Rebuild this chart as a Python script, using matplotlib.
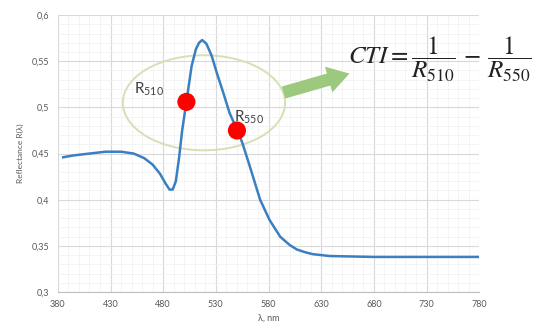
import matplotlib
matplotlib.use("Agg")
import matplotlib.pyplot as plt
from matplotlib.patches import Ellipse, FancyArrowPatch
from matplotlib.ticker import MultipleLocator, FixedLocator

plt.rcParams['font.family'] = ['Lato', 'DejaVu Sans']

# Data
wavelength = [385, 395, 410, 425, 440, 452, 462, 470, 477, 482, 486, 489, 492, 495,
              498, 502, 507, 511, 514, 517, 521, 526, 531, 537, 543, 550, 555, 562,
              572, 581, 591, 600, 607, 615, 622, 638, 680, 780]
reflectance = [0.446, 0.448, 0.450, 0.452, 0.452, 0.450, 0.445, 0.438, 0.428, 0.418,
               0.411, 0.411, 0.420, 0.445, 0.475, 0.506, 0.545, 0.563, 0.570, 0.573,
               0.569, 0.556, 0.537, 0.516, 0.494, 0.476, 0.462, 0.437, 0.400, 0.378,
               0.360, 0.351, 0.346, 0.343, 0.341, 0.339, 0.338, 0.338]
marker_x = [502, 550]
marker_y = [0.506, 0.475]
marker_labels = [r"R$_{\mathregular{510}}$", r"R$_{\mathregular{550}}$"]
x_ticks = [380, 430, 480, 530, 580, 630, 680, 730, 780]
y_ticks = [0.3, 0.35, 0.4, 0.45, 0.5, 0.55, 0.6]
y_tick_labels = ["0,3", "0,35", "0,4", "0,45", "0,5", "0,55", "0,6"]

fig = plt.figure(figsize=(5.36, 3.25), dpi=100)
ax = fig.add_axes([0.108, 0.1015, 0.786, 0.852])

ax.set_xlim(380, 780)
ax.set_ylim(0.3, 0.6)
ax.xaxis.set_major_locator(FixedLocator(x_ticks))
ax.xaxis.set_minor_locator(MultipleLocator(10))
ax.yaxis.set_major_locator(FixedLocator(y_ticks))
ax.yaxis.set_minor_locator(MultipleLocator(0.01))
ax.set_yticklabels(y_tick_labels)
ax.grid(which='major', color='#d9d9d9', lw=0.8)
ax.grid(which='minor', color='#f0f0f0', lw=0.5)
ax.set_axisbelow(True)
for s in ['top', 'right', 'left']:
    ax.spines[s].set_visible(False)
ax.spines['bottom'].set_color('#bfbfbf')
ax.tick_params(which='both', length=0, labelsize=6.5, labelcolor='#595959', pad=6)
ax.set_xlabel("λ, nm", fontsize=6.5, color='#595959', labelpad=3)
ax.set_ylabel("Reflectance R(λ)", fontsize=6, color='#595959', labelpad=6)

ax.plot(wavelength, reflectance, color='#3a7fc1', lw=1.8, zorder=3)

ell = Ellipse((518.7, 0.505), 154, 0.103, fill=False, edgecolor='#d6e0b4', lw=1.4, zorder=2)
ax.add_patch(ell)

ax.scatter(marker_x, marker_y, s=170, color='#ff0000', zorder=4, edgecolors='none')
ax.text(481, 0.520, marker_labels[0], fontsize=11, color='#404040', ha='right', va='center')
ax.text(547, 0.489, marker_labels[1], fontsize=11, color='#404040', ha='left', va='center')

arrow = FancyArrowPatch((0.524, 0.713), (0.657, 0.776), transform=fig.transFigure,
                        arrowstyle="simple,head_width=1.6,head_length=1.3,tail_width=0.75",
                        mutation_scale=12, color='#9cc97e', lw=0)
fig.patches.append(arrow)

fig.text(0.649, 0.817, r"$CTI=\dfrac{1}{R_{510}}\,-\,\dfrac{1}{R_{550}}$", fontsize=18,
         color='#222222', ha='left', va='center', math_fontfamily='stix')

fig.savefig("out.png", dpi=100)
